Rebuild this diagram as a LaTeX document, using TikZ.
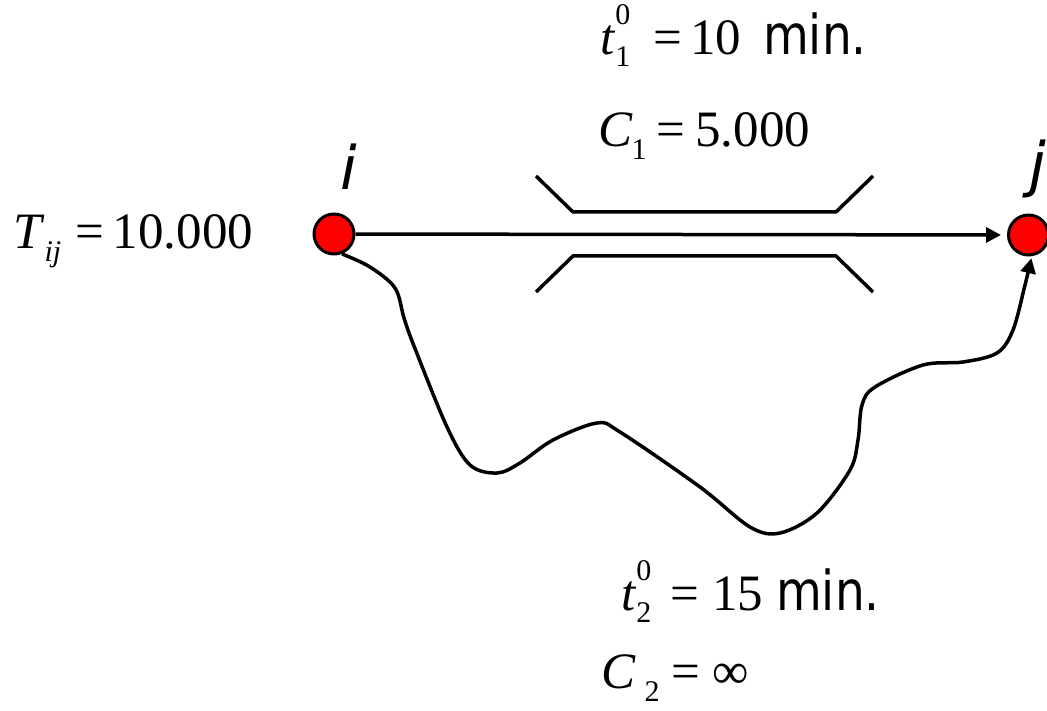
\documentclass[tikz,border=0pt]{standalone}
\usepackage{fontspec}
\usepackage{graphicx}
\setmainfont{Liberation Serif}
\newfontfamily\sansf{DejaVu Sans}
\usetikzlibrary{arrows.meta}
\newcommand{\smf}{\fontsize{30}{30}\selectfont}
\newcommand{\SupSub}[2]{\rlap{\raisebox{30pt}{\smf #1}}\raisebox{-12pt}{\smf #2}}
\newcommand{\Sub}[1]{\raisebox{-13pt}{\smf #1}}
\newcommand{\minunit}{\scalebox{0.855}[1]{\sansf\fontsize{55}{60}\selectfont min.}}
\begin{document}
\begin{tikzpicture}[x=1pt,y=-1pt,
  vertex/.style={circle,draw=black,line width=3pt,fill=red,minimum size=40pt,inner sep=0pt},
  lbl/.style={anchor=base west,inner sep=0pt,font=\fontsize{51}{55}\selectfont},
  nodename/.style={anchor=base west,inner sep=0pt,font=\sansf\itshape\fontsize{60}{64}\selectfont},
  wall/.style={line width=3.5pt},
  link/.style={line width=3.5pt,-{Triangle[length=15pt,width=15pt]}}]
\useasboundingbox (0,0) rectangle (1047,711);
\node[vertex] (i) at (334,234) {};
\node[vertex] (j) at (1028.5,235) {};
\node[nodename] (li) at (340,190) {i};
\node[nodename] (lj) at (1029,186) {j};
% labels
\node[lbl] (tij) at (13,249) {\textit{T}\Sub{\textit{ij}}\hspace{14pt}=\hspace{9pt}10.000};
\node[lbl] (t1) at (600,55) {\textit{t}\SupSub{0}{1}\hspace{23pt}=\hspace{8pt}10\hspace{22pt}\minunit};
\node[lbl] (c1) at (598,147) {\textit{C}\hspace{-1pt}\Sub{1}\hspace{10pt}=\hspace{10pt}5.000};
\node[lbl] (t2) at (621,610) {\textit{t}\SupSub{0}{2}\hspace{19pt}=\hspace{13pt}15\hspace{13pt}\minunit};
\node[lbl] (c2) at (601,688) {\textit{C}\hspace{9pt}\Sub{2}\hspace{12pt}=\hspace{12pt}∞};
% road walls
\draw[wall] (536,176) -- (573,212) -- (836,212) -- (873,176);
\draw[wall] (536,292) -- (573,256) -- (836,256) -- (873,292);
% links
\draw[link,shorten >=6pt] (i) -- (j);
\draw[link,shorten >=2pt] plot[smooth,tension=0.55] coordinates {(i.-68) (370,267) (395,288) (404,318) (414,346) (447,427) (470,465) (497,473) (520,463) (553,440) (597,423) (620,432) (700,487) (750,527) (780,533) (817,513) (850,470) (858,440) (862,405) (875,387) (923,365) (963,362) (997,353) (1013,330) (1025,285) (j.-81)};
\end{tikzpicture}
\end{document}
